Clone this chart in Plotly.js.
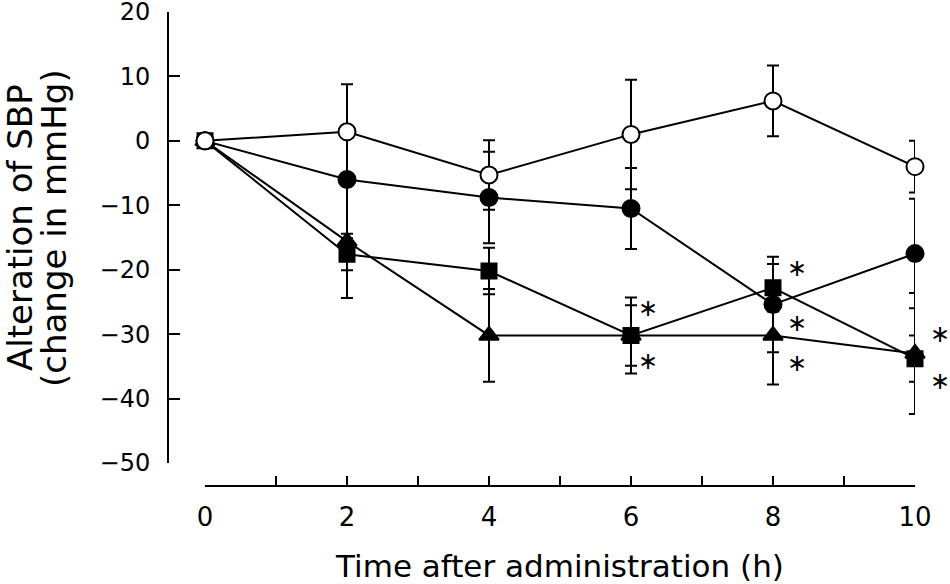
<!DOCTYPE html>
<html>
<head>
<meta charset="utf-8">
<script src="https://cdn.plot.ly/plotly-3.0.1.min.js"></script>
<style>html,body{margin:0;padding:0;background:#fff;}#chart{width:950px;height:584px;}</style>
</head>
<body>
<div id="chart"></div>
<script>
// Time points (h)
const hours = [0, 2, 4, 6, 8, 10];

// Group means (change in mmHg) and SE
const openCircle     = [0, 1.4, -5.3, 1.0, 6.2, -4.0];
const openCircleSE   = [0, 7.4, 5.4, 8.5, 5.5, 4.0];
const filledCircle   = [0, -6.0, -8.8, -10.5, -25.4, -17.5];
const filledCircleSE = [0, 8.4, 7.1, 6.3, 7.4, 8.5];
const filledSquare   = [0, -17.6, -20.2, -30.2, -22.8, -33.8];
const filledSquareSE = [0, 2.5, 3.6, 5.9, 3.7, 3.6];
const filledTriangle   = [0, -15.6, -30.2, -30.2, -30.2, -33.0];
const filledTriangleSE = [0, 8.8, 7.2, 4.7, 7.6, 9.4];

// Significance markers (*): time point and level
const starX = [6, 6, 8, 8, 8, 10, 10];
const starY = [-26.0, -34.2, -19.8, -28.2, -34.5, -29.9, -37.2];

// Axis ticks and titles
const xTickVals = [0, 1, 2, 3, 4, 5, 6, 7, 8, 9, 10];
const xTickText = ['0', '', '2', '', '4', '', '6', '', '8', '', '10'];
const yTickVals = [20, 10, 0, -10, -20, -30, -40, -50];
const xTitle = 'Time after administration (h)';
const yTitleLines = ['Alteration of SBP', '(change in mmHg)'];

const FONT = 'DejaVu Sans, Liberation Sans, Arial, sans-serif';
const STAR_SHIFT = {6: 17, 8: 24, 10: 25}; // px to the right of the point

function series(y, se, symbol, fill, size) {
  return {
    x: hours, y: y, type: 'scatter', mode: 'lines+markers',
    cliponaxis: false,
    line: {color: '#000', width: 2},
    marker: {symbol: symbol, size: size, color: fill, line: {color: '#000', width: 2}},
    error_y: {type: 'data', array: se, visible: true, color: '#000', thickness: 2, width: 6},
    showlegend: false, hoverinfo: 'x+y'
  };
}

const traces = [
  series(filledTriangle, filledTriangleSE, 'triangle-up', '#000', 17),
  series(filledSquare, filledSquareSE, 'square', '#000', 15),
  series(filledCircle, filledCircleSE, 'circle', '#000', 17),
  series(openCircle, openCircleSE, 'circle', '#fff', 17)
];

const annotations = starX.map((sx, i) => ({
  x: sx, y: starY[i], xref: 'x', yref: 'y', text: '∗', showarrow: false,
  xshift: STAR_SHIFT[sx], xanchor: 'center', yanchor: 'middle', borderpad: 0,
  font: {family: 'DejaVu Sans', size: 24, color: '#000'}
})).concat(yTitleLines.map((t, i) => ({
  x: [20 / 950, 54 / 950][i], y: (584 - 228) / 584, xref: 'paper', yref: 'paper',
  text: t, textangle: -90, showarrow: false, xanchor: 'center', yanchor: 'middle',
  font: {family: FONT, size: 34, color: '#000'}
})));

const layout = {
  width: 950, height: 584,
  margin: {l: 0, r: 0, t: 0, b: 0},
  paper_bgcolor: '#fff', plot_bgcolor: '#fff',
  font: {family: FONT, color: '#000', size: 26},
  showlegend: false,
  annotations: annotations,
  xaxis: {
    domain: [205 / 950, 915 / 950],
    range: [0, 10],
    anchor: 'free', position: (584 - 486) / 584,
    showline: true, linecolor: '#000', linewidth: 2,
    ticks: 'inside', ticklen: 9, tickwidth: 2, tickcolor: '#000',
    tickvals: xTickVals, ticktext: xTickText,
    tickfont: {family: FONT, size: 26},
    ticklabelstandoff: 8, ticklabeloverflow: 'allow',
    showgrid: false, zeroline: false, automargin: false,
    title: {text: xTitle, font: {family: FONT, size: 31}, standoff: 24}
  },
  yaxis: {
    domain: [(584 - 463) / 584, (584 - 12) / 584],
    range: [-50, 20],
    anchor: 'free', position: 168 / 950,
    showline: true, linecolor: '#000', linewidth: 2,
    ticks: 'inside', ticklen: 11, tickwidth: 2, tickcolor: '#000',
    tickvals: yTickVals,
    tickfont: {family: FONT, size: 24},
    ticklabelstandoff: 12, ticklabeloverflow: 'allow',
    showgrid: false, zeroline: false, automargin: false
  }
};

Plotly.newPlot('chart', traces, layout, {displayModeBar: false, staticPlot: true});
</script>
</body>
</html>
